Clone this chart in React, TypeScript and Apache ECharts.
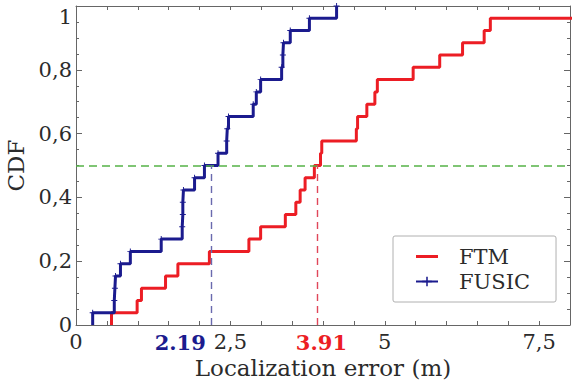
import React, { useEffect, useRef } from "react";
import * as echarts from "echarts";

// Sorted localization errors (m) of the 26 test positions for each system
const fusicErrors = [
  0.27, 0.62, 0.63, 0.64, 0.72, 0.88, 1.38, 1.72, 1.73, 1.73, 1.74, 1.92, 2.08,
  2.3, 2.44, 2.45, 2.47, 2.87, 2.92, 2.99, 3.33, 3.35, 3.36, 3.47, 3.78, 4.22,
];
const ftmErrors = [
  0.575, 0.99, 1.06, 1.45, 1.65, 2.16, 2.8, 2.99, 3.39, 3.56, 3.63, 3.71, 3.86,
  3.96, 3.98, 4.54, 4.56, 4.71, 4.84, 4.88, 5.46, 5.89, 6.26, 6.61, 6.71, 8.6,
];

// Median errors marked on the x axis
const fusicMedian = 2.19;
const ftmMedian = 3.91;
const medianLevel = 0.5;

// Axis ranges and tick spacing
const xRange = [0, 8];
const xMinorStep = 0.5;
const xLabelStep = 2.5;
const yRange = [0, 1];
const yStep = 0.2;

const FONT = "DejaVu Serif";
const RED = "#ec1d24";
const BLUE = "#1b1b8e";
const GREEN = "#55b347";
const FRAME = "#666666";
const TEXT = "#2b2b2b";

// Empirical CDF points: start at zero, then one step per sample
const cdfPoints = (errors: number[]) => {
  const n = errors.length;
  const pts: any[] = [{ value: [errors[0], 0], symbol: "none" }];
  errors.forEach((e, i) => pts.push({ value: [e, (i + 1) / n] }));
  return pts;
};

const commaNum = (v: number) =>
  Number.isInteger(v) ? String(v) : String(+v.toFixed(2)).replace(".", ",");

const plusSymbol = "path://M0,4.2H10V5.8H0Z M4.2,0H5.8V10H4.2Z";
const lineIcon = "path://M0,0H22V3H0Z";

const frameAxis = {
  axisLine: { show: true, onZero: false, lineStyle: { color: FRAME, width: 1 } },
  splitLine: { show: false },
};

const medianLabel = (value: number, color: string, dx: number) => ({
  silent: true,
  symbol: "circle",
  symbolSize: 1,
  itemStyle: { color: "rgba(0,0,0,0)" },
  data: [{ coord: [value, 0] }],
  label: {
    show: true,
    position: "bottom",
    distance: 6,
    offset: [dx, 0],
    formatter: String(value),
    fontFamily: FONT,
    fontWeight: "bold",
    fontSize: 21,
    color,
  },
});

const medianDrop = (value: number, color: string) => ({
  silent: true,
  symbol: "none",
  label: { show: false },
  data: [[{ coord: [value, 0] }, { coord: [value, medianLevel] }]],
  lineStyle: { color, width: 1.4, type: [7, 5] },
});

export default function App() {
  const ref = useRef<HTMLDivElement>(null);

  useEffect(() => {
    const chart = echarts.init(ref.current!, null, { renderer: "svg" });

    const xLabel = (v: number) => {
      const r = v / xLabelStep;
      return Math.abs(r - Math.round(r)) < 1e-6 && v < xRange[1] ? commaNum(v) : "";
    };

    const option: any = {
      animation: false,
      backgroundColor: "#ffffff",
      textStyle: { fontFamily: FONT },
      grid: {
        left: 76,
        right: 2,
        top: 6,
        bottom: 58,
        containLabel: false,
        outerBoundsMode: "none",
      },
      legend: {
        data: [{ name: "FTM", icon: lineIcon }, { name: "FUSIC" }],
        orient: "vertical",
        left: 393,
        top: 236,
        itemWidth: 22,
        itemHeight: 12,
        itemGap: 4,
        symbolKeepAspect: true,
        padding: [10, 26, 10, 22],
        backgroundColor: "#ffffff",
        borderColor: "#b0b0b0",
        borderWidth: 1,
        borderRadius: 2,
        textStyle: {
          fontFamily: FONT,
          fontSize: 21,
          color: TEXT,
          padding: [0, 0, 0, 16],
        },
      },
      xAxis: [
        {
          ...frameAxis,
          type: "value",
          position: "bottom",
          min: xRange[0],
          max: xRange[1],
          interval: xMinorStep,
          axisTick: { show: true, inside: true, length: 4, lineStyle: { color: FRAME } },
          axisLabel: {
            formatter: xLabel,
            margin: 6,
            fontSize: 21,
            fontFamily: FONT,
            color: TEXT,
            showMaxLabel: false,
          },
          name: "Localization error (m)",
          nameLocation: "middle",
          nameGap: 30,
          nameTextStyle: { fontFamily: FONT, fontSize: 23, color: TEXT },
        },
        {
          ...frameAxis,
          type: "value",
          position: "top",
          min: xRange[0],
          max: xRange[1],
          interval: xMinorStep,
          axisTick: { show: true, inside: true, length: 4, lineStyle: { color: FRAME } },
          axisLabel: { show: false },
        },
      ],
      yAxis: [
        {
          ...frameAxis,
          type: "value",
          position: "left",
          min: yRange[0],
          max: yRange[1],
          interval: yStep,
          axisTick: { show: true, inside: true, length: 6, lineStyle: { color: FRAME } },
          minorTick: { show: true, splitNumber: 4, length: 3, lineStyle: { color: FRAME } },
          axisLabel: {
            formatter: (v: number) => (v === yRange[1] ? "{top|" + commaNum(v) + "}" : commaNum(v)),
            margin: 4,
            fontSize: 21,
            fontFamily: FONT,
            color: TEXT,
            rich: {
              top: { fontSize: 21, fontFamily: FONT, color: TEXT, padding: [22, 0, 0, 0] },
            },
          },
          name: "CDF",
          nameLocation: "middle",
          nameGap: 46,
          nameTextStyle: { fontFamily: FONT, fontSize: 23, color: TEXT },
        },
        {
          ...frameAxis,
          type: "value",
          position: "right",
          min: yRange[0],
          max: yRange[1],
          interval: yStep,
          axisTick: { show: true, inside: true, length: 6, lineStyle: { color: FRAME } },
          minorTick: { show: true, splitNumber: 4, length: 3, lineStyle: { color: FRAME } },
          axisLabel: { show: false },
        },
      ],
      series: [
        {
          // horizontal reference at the median level
          name: "median level",
          type: "line",
          data: [],
          symbol: "none",
          color: GREEN,
          lineStyle: { color: GREEN },
          itemStyle: { color: GREEN },
          z: 1,
          markLine: {
            silent: true,
            symbol: "none",
            label: { show: false },
            itemStyle: { color: GREEN },
            lineStyle: { color: GREEN, width: 1.5, type: [8, 5], opacity: 1 },
            data: [{ yAxis: medianLevel, lineStyle: { color: GREEN } }],
          },
        },
        {
          name: "FTM",
          type: "line",
          step: "end",
          data: cdfPoints(ftmErrors),
          symbol: "none",
          clip: true,
          lineStyle: { color: RED, width: 3 },
          itemStyle: { color: RED },
          z: 3,
          markLine: medianDrop(ftmMedian, "#e0475a"),
          markPoint: medianLabel(ftmMedian, RED, 4),
        },
        {
          name: "FUSIC",
          type: "line",
          step: "end",
          data: cdfPoints(fusicErrors),
          symbol: plusSymbol,
          symbolSize: 6,
          showSymbol: true,
          showAllSymbol: true,
          clip: true,
          lineStyle: { color: BLUE, width: 3 },
          itemStyle: { color: BLUE },
          z: 4,
          markLine: medianDrop(fusicMedian, "#6a6aae"),
          markPoint: medianLabel(fusicMedian, BLUE, -31),
        },
      ],
    };

    chart.setOption(option);
    return () => chart.dispose();
  }, []);

  return (
    <div
      ref={ref}
      style={{ position: "absolute", left: 0, top: 0, width: 572, height: 383 }}
    />
  );
}
